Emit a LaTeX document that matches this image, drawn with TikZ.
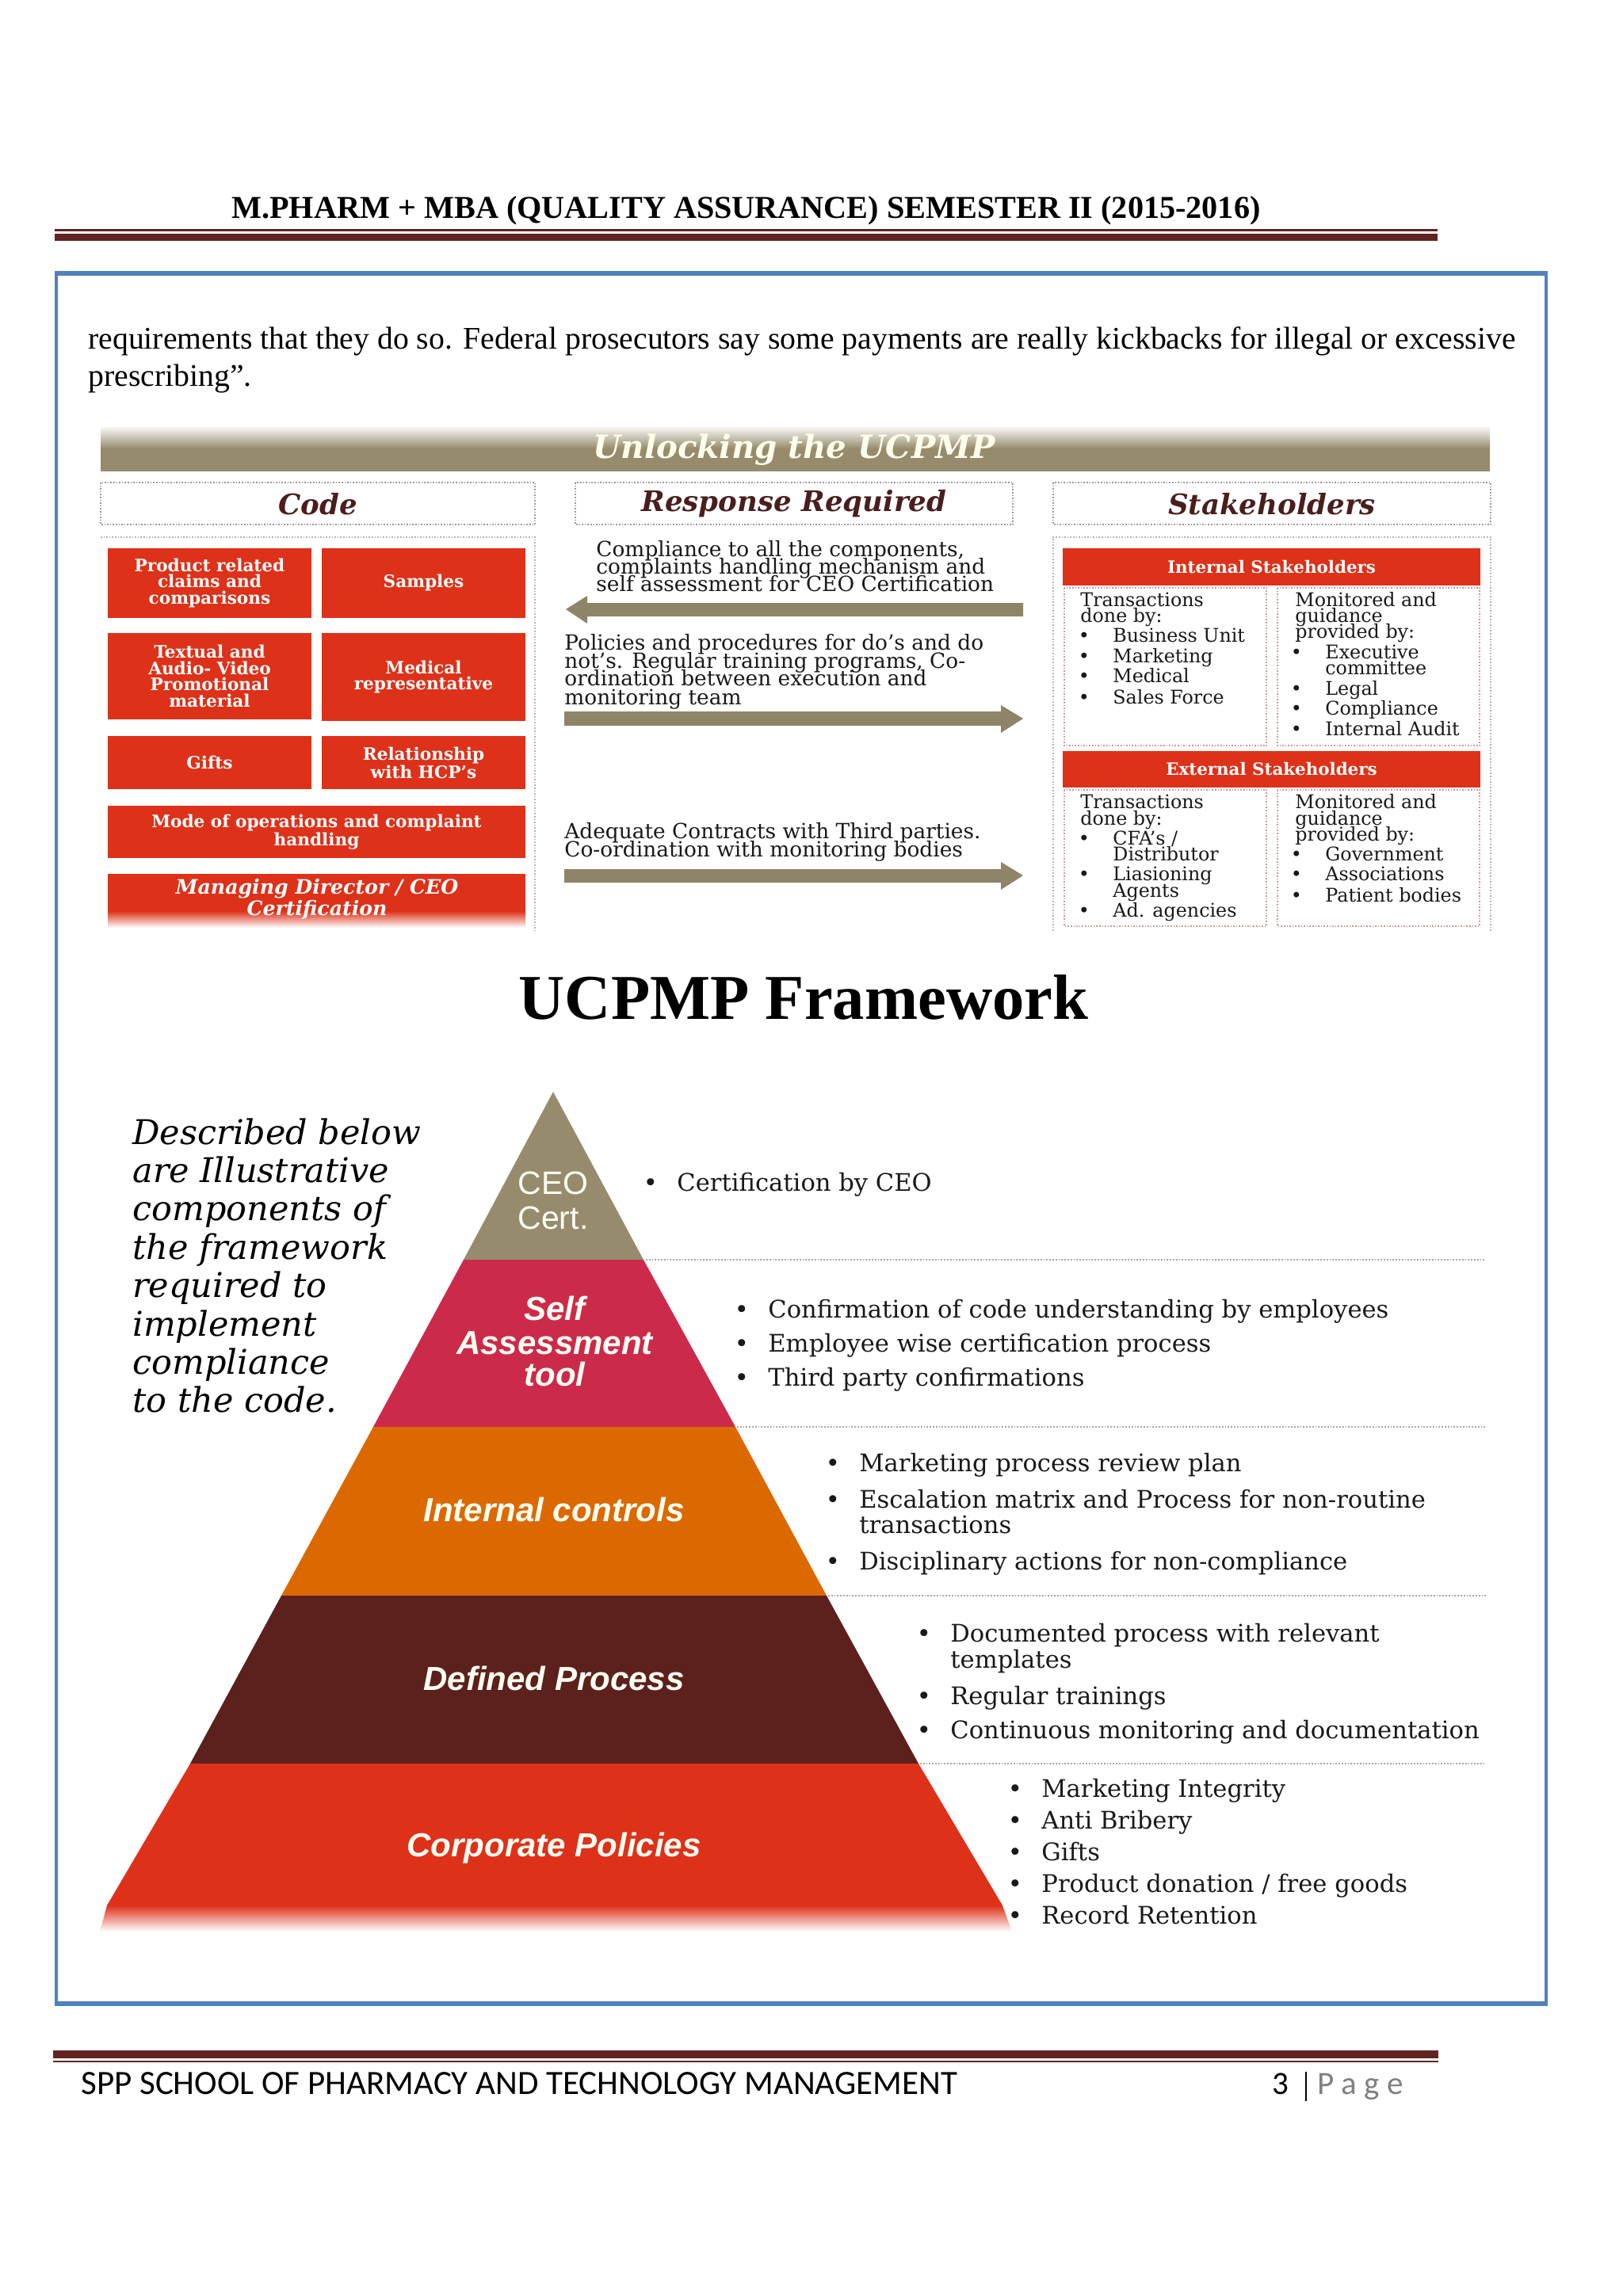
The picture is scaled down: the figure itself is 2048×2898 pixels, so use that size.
\documentclass[tikz,border=0pt]{standalone}
\usepackage{fontspec}
\setmainfont{Liberation Serif}
\newfontfamily\georgiaf{DejaVu Serif}
\newfontfamily\arialf{Liberation Sans}
\newfontfamily\calibrif{Carlito}
\newcommand{\fs}[1]{\fontsize{#1}{#1}\selectfont}
\definecolor{framebl}{HTML}{4F81BD}
\definecolor{rulered}{HTML}{622423}
\definecolor{olivebd}{HTML}{968C6D}
\definecolor{codered}{HTML}{DE3119}
\definecolor{selfred}{HTML}{CC2A4B}
\definecolor{ctrlor}{HTML}{DC6900}
\definecolor{procbr}{HTML}{5C211D}
\definecolor{titlebr}{HTML}{4A1E1E}
\tikzset{
    boxtext/.style={text=white, align=center, inner sep=0, font=\georgiaf\bfseries\fontsize{10.8}{10.3}\selectfont},
    headbox/.style={draw=gray!80, densely dotted, line width=.8pt},
    headtext/.style={text=titlebr, inner sep=0, font=\georgiaf\bfseries\itshape\fs{17.8}},
    panelline/.style={draw=gray!60, densely dotted, line width=.8pt},
    pinkbox/.style={draw=red!35!gray!60, densely dotted, line width=.8pt},
    line/.style={anchor=base west, inner sep=0, text=black!90},
    resptext/.style={line, font=\georgiaf\fs{13.2}},
    staketext/.style={line, font=\georgiaf\fs{11.9}},
    listtext/.style={line, font=\georgiaf\fs{15.3}},
    pyrtext/.style={anchor=base, inner sep=0, text=white!95!yellow, font=\arialf\bfseries\itshape\fs{21}},
    blockarrow/.style={fill=olivebd!95!black},
    sepline/.style={draw=gray!70, densely dotted, line width=.9pt}
}
\begin{document}
\begin{tikzpicture}[x=.5pt, y=-.5pt]
    \useasboundingbox (0,0) rectangle (2048,2898);
    \fill[white] (0,0) rectangle (2048,2898);
    % en-tete
    \node[anchor=base west, inner sep=0, font=\bfseries\fs{20.1}] (header) at (292,275) {M.PHARM + MBA (QUALITY ASSURANCE) SEMESTER II (2015-2016)};
    \fill[rulered] (69,289) rectangle (1814,292);
    \fill[rulered] (69,295) rectangle (1814,304);
    % cadre
    \draw[framebl, line width=2pt] (71,345) rectangle (1951,2529);
    \fill[framebl] (69,342) rectangle (1953,348);
    \fill[framebl] (69,2526) rectangle (1953,2532);
    \node[anchor=base west, inner sep=0, font=\fs{19.85}] (body1) at (111,440) {requirements that they do so. Federal prosecutors say some payments are really kickbacks for illegal or excessive};
    \node[anchor=base west, inner sep=0, font=\fs{19.85}] (body2) at (111,487) {prescribing”.};
    % bandeau
    \fill[olivebd] (127,566) rectangle (1880,595);
    \shade[top color=white, bottom color=olivebd] (127,537) rectangle (1880,566);
    \node[inner sep=0, text=white!92!yellow, font=\georgiaf\bfseries\itshape\fs{20.2}] (title) at (1002,568) {Unlocking the UCPMP};
    % colonnes
    \draw[headbox] (127,609) rectangle (675,662);
    \draw[headbox] (726,609) rectangle (1278,662);
    \draw[headbox] (1329,609) rectangle (1881,662);
    \node[headtext] (code) at (401,636) {Code};
    \node[headtext] (response) at (1002,636) {Response Required};
    \node[headtext] (stake) at (1605,636) {Stakeholders};
    \draw[panelline] (127,678) -- (675,678) -- (675,1175);
    \draw[panelline] (1329,1175) -- (1329,678) -- (1881,678) -- (1881,1175);
    % cases rouges
    \foreach \xa/\ya/\xb/\yb/\txt [count=\i] in {
        136/692/393/780/{Product related\\claims and\\comparisons},
        406/692/663/780/{Samples},
        136/799/393/908/{Textual and\\Audio- Video\\Promotional\\material},
        406/799/663/910/{Medical\\representative},
        136/929/393/996/{Gifts},
        406/929/663/996/{Relationship\\with HCP’s},
        136/1017/663/1083/{Mode of operations and complaint\\handling}}
    {
        \fill[codered] (\xa,\ya) rectangle (\xb,\yb) node[midway, boxtext] (codebox\i) {\txt};
    }
    \fill[codered] (136,1103) rectangle (663,1150);
    \shade[top color=codered, bottom color=white] (136,1150) rectangle (663,1171);
    \node[boxtext, font=\georgiaf\bfseries\itshape\fontsize{12.6}{10.3}\selectfont] (mdcert) at (400,1135) {Managing Director / CEO\\Certification};
    % colonne centrale
    \foreach \x/\y/\txt [count=\i] in {
        752/702/{Compliance to all the components,},
        752/724/{complaints handling mechanism and},
        752/746/{self assessment for CEO Certification},
        712/820/{Policies and procedures for do’s and do},
        712/843/{not’s. Regular training programs, Co-},
        712/865/{ordination between execution and},
        712/889/{monitoring team},
        712/1058/{Adequate Contracts with Third parties.},
        712/1081/{Co-ordination with monitoring bodies}}
    {
        \node[resptext] (resp\i) at (\x,\y) {\txt};
    }
    \fill[blockarrow] (714,769) -- (741,752) -- (741,761) -- (1291,761) -- (1291,778) -- (741,778) -- (741,787) -- cycle;
    \fill[blockarrow] (712,898) -- (1263,898) -- (1263,890) -- (1291,907) -- (1263,925) -- (1263,916) -- (712,916) -- cycle;
    \fill[blockarrow] (712,1097) -- (1263,1097) -- (1263,1088) -- (1291,1105) -- (1263,1123) -- (1263,1114) -- (712,1114) -- cycle;
    % stakeholders
    \fill[codered] (1341,692) rectangle (1868,739) node[midway, boxtext, font=\georgiaf\bfseries\fs{10.7}] (internal) {Internal Stakeholders};
    \fill[codered] (1341,948) rectangle (1868,994) node[midway, boxtext, font=\georgiaf\bfseries\fs{10.7}] (external) {External Stakeholders};
    \draw[pinkbox] (1343,742) rectangle (1598,941);
    \draw[pinkbox] (1612,742) rectangle (1867,941);
    \draw[pinkbox] (1343,997) rectangle (1598,1169);
    \draw[pinkbox] (1612,997) rectangle (1867,1169);
    \foreach \x/\y/\txt [count=\i] in {
        1363/765/{Transactions}, 1363/785/{done by:},
        1634/765/{Monitored and}, 1634/785/{guidance}, 1634/805/{provided by:},
        1672/851/{committee},
        1363/1020/{Transactions}, 1363/1041/{done by:},
        1404/1086/{Distributor}, 1404/1132/{Agents},
        1634/1020/{Monitored and}, 1634/1041/{guidance}, 1634/1061/{provided by:}}
    {
        \node[staketext] (stakeline\i) at (\x,\y) {\txt};
    }
    \foreach \x/\y/\txt [count=\i] in {
        1404/810/{Business Unit}, 1404/836/{Marketing}, 1404/861/{Medical}, 1404/888/{Sales Force},
        1672/831/{Executive}, 1672/877/{Legal}, 1672/902/{Compliance}, 1672/928/{Internal Audit},
        1404/1066/{CFA’s /}, 1404/1111/{Liasioning}, 1404/1157/{Ad. agencies},
        1672/1086/{Government}, 1672/1111/{Associations}, 1672/1138/{Patient bodies}}
    {
        \node[staketext] (stakeitem\i) at (\x,\y) {\txt};
        \node[staketext, anchor=base] (stakedot\i) at (\x-36,\y) {•};
    }
    % titre
    \node[anchor=base, inner sep=0, font=\bfseries\fs{40.3}] (framework) at (1014,1286) {UCPMP Framework};
    % pyramide
    \fill[olivebd] (698,1378) -- (812,1590) -- (585,1590) -- cycle;
    \fill[selfred] (585,1590) -- (812,1590) -- (928,1801) -- (471,1801) -- cycle;
    \fill[ctrlor] (471,1801) -- (928,1801) -- (1043,2014) -- (355,2014) -- cycle;
    \fill[procbr] (355,2014) -- (1043,2014) -- (1159,2226) -- (240,2226) -- cycle;
    \fill[codered] (240,2226) -- (1159,2226) -- (1265,2405) -- (135,2405) -- cycle;
    \shade[top color=codered, bottom color=white] (135,2405) -- (1265,2405) -- (1277,2438) -- (126,2438) -- cycle;
    \draw[sepline] (815,1590) -- (1875,1590);
    \draw[sepline] (930,1801) -- (1875,1801);
    \draw[sepline] (1045,2014) -- (1875,2014);
    \draw[sepline] (1161,2226) -- (1875,2226);
    \node[pyrtext, font=\arialf\fs{20.5}] (ceo) at (698,1507) {CEO};
    \node[pyrtext, font=\arialf\fs{20.5}] (cert) at (698,1551) {Cert.};
    \node[pyrtext] (self) at (700,1666) {Self};
    \node[pyrtext] (assess) at (700,1709) {Assessment};
    \node[pyrtext] (tool) at (700,1749) {tool};
    \node[pyrtext] (controls) at (699,1920) {Internal controls};
    \node[pyrtext] (process) at (699,2133) {Defined Process};
    \node[pyrtext] (policies) at (699,2343) {Corporate Policies};
    % texte a gauche
    \foreach \txt [count=\i, evaluate=\i as \y using 1444+(\i-1)*48.4] in {Described below, are Illustrative, components of, the framework, required to, implement, compliance, to the code.}
    {
        \node[line, text=black, font=\georgiaf\itshape\fs{21.5}] (side\i) at (167,\y) {\txt};
    }
    % listes
    \foreach \x/\y/\txt [count=\i] in {
        854/1503/{Certification by CEO},
        969/1663/{Confirmation of code understanding by employees},
        969/1706/{Employee wise certification process},
        969/1749/{Third party confirmations},
        1084/1857/{Marketing process  review plan},
        1084/1903/{Escalation matrix and Process for non-routine},
        1084/1981/{Disciplinary actions for non-compliance},
        1199/2072/{Documented process with relevant},
        1199/2151/{Regular trainings},
        1199/2194/{Continuous monitoring and documentation},
        1314/2268/{Marketing Integrity},
        1314/2308/{Anti Bribery},
        1314/2348/{Gifts},
        1314/2388/{Product donation / free goods},
        1314/2428/{Record Retention}}
    {
        \node[listtext] (list\i) at (\x,\y) {\txt};
        \node[listtext, anchor=base] (listdot\i) at (\x-33,\y) {•};
    }
    \node[listtext] (listmore1) at (1084,1935) {transactions};
    \node[listtext] (listmore2) at (1199,2105) {templates};
    % pied de page
    \fill[rulered] (67,2588) rectangle (1815,2598);
    \fill[rulered] (67,2601) rectangle (1815,2603);
    \node[anchor=base west, inner sep=0, font=\calibrif\fs{21.5}] (footer) at (102,2643) {SPP SCHOOL OF PHARMACY AND TECHNOLOGY MANAGEMENT};
    \node[anchor=base west, inner sep=0, font=\calibrif\fs{20.5}] (pagenum) at (1605,2643) {3};
    \draw[black, line width=.8pt] (1648,2615) -- (1648,2652);
    \node[anchor=base west, inner sep=0, text=black!50, font=\calibrif\fs{20.5}] (pageword) at (1662,2643) {P a g e};
\end{tikzpicture}
\end{document}
